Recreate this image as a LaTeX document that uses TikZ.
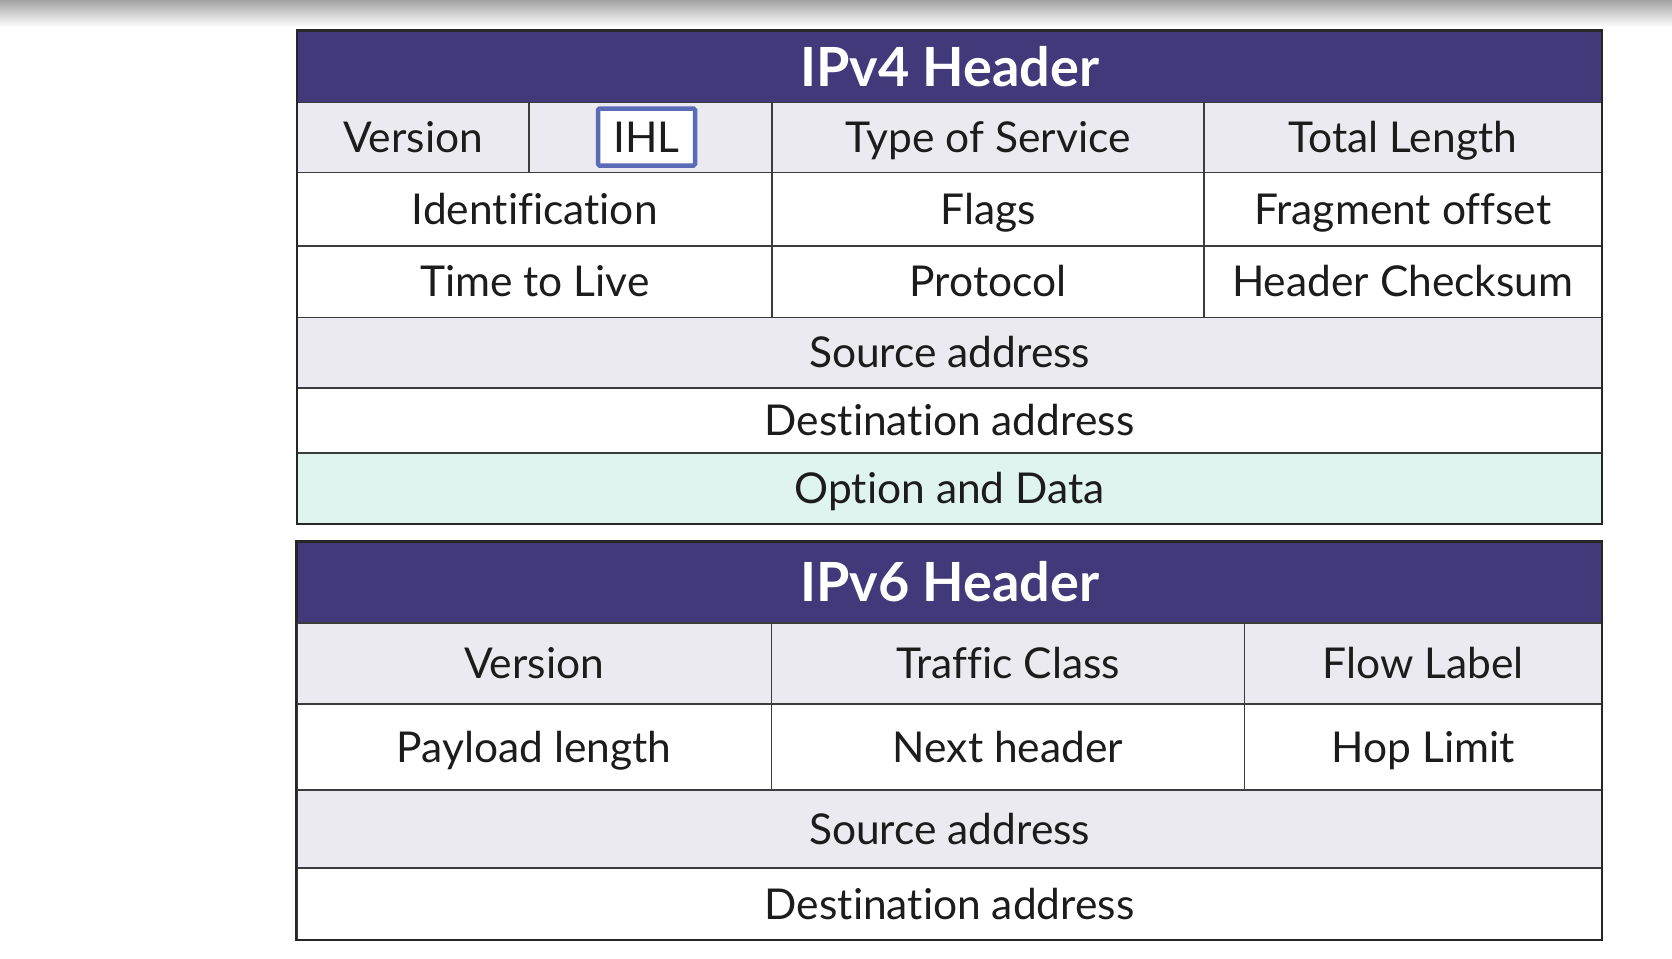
\documentclass[tikz,border=0pt]{standalone}
\usepackage{fontspec}
\setmainfont{Lato}[Ligatures=NoCommon]
\begin{document}
\definecolor{headfill}{HTML}{41397A}
\definecolor{rowlight}{HTML}{EBEAF1}
\definecolor{rowmint}{HTML}{DFF4EE}
\definecolor{rule}{HTML}{3C3C3C}
\definecolor{ink}{HTML}{1C1C1C}
\definecolor{markblue}{HTML}{5B6BB5}
\begin{tikzpicture}[x=1pt,y=-1pt,
  cell/.style={draw=rule,line width=1.8pt,inner sep=0pt,outer sep=0pt,
    text=ink,font=\fontsize{42.5}{42.5}\selectfont,
    text height=30pt,text depth=0pt},
  light/.style={cell,fill=rowlight},
  plain/.style={cell,fill=white},
  mint/.style={cell,fill=rowmint},
  head/.style={draw=black!85,line width=1.8pt,fill=headfill,inner sep=0pt,
    text=white,font=\fontsize{54}{54}\selectfont\bfseries,
    text height=38.5pt,text depth=0pt},
  frame/.style={draw=black!85,line width=2.2pt},
  hilite/.style={draw=markblue,line width=4.5pt,fill=white!96!rowlight,
    rounded corners=1.5pt,inner sep=0pt,text=ink,
    font=\fontsize{42.5}{42.5}\selectfont,text height=30pt,text depth=0pt}]
\useasboundingbox (0,0) rectangle (1672,958);
\fill[white] (0,0) rectangle (1672,958);
% soft shadow strip along the top edge
\shade[top color=black!36,bottom color=white] (0,0) rectangle (1672,27);

% ---------------- IPv4 header ----------------
\node[head,minimum width=1304.2pt,minimum height=71.5pt] (v4head) at (949.6,66.75) {IPv4 Header};
% row 1
\node[light,minimum width=231.5pt,minimum height=70pt] (v4ver) at (413.25,137.5) {Version};
\node[light,minimum width=243pt,minimum height=70pt] (v4ihl) at (650.5,137.5) {};
\node[light,minimum width=432pt,minimum height=70pt] (v4tos) at (988,137.5) {Type of Service};
\node[light,minimum width=397.7pt,minimum height=70pt] (v4len) at (1402.85,137.5) {Total Length};
\node[hilite,minimum width=97pt,minimum height=57pt] (ihlmark) at (646.5,137) {IHL};
% row 2
\node[plain,minimum width=474.5pt,minimum height=73.5pt] (v4id) at (534.75,209.25) {Identification};
\node[plain,minimum width=432pt,minimum height=73.5pt] (v4flags) at (988,209.25) {Flags};
\node[plain,minimum width=397.7pt,minimum height=73.5pt] (v4frag) at (1402.85,209.25) {Fragment offset};
% row 3
\node[plain,minimum width=474.5pt,minimum height=71.5pt] (v4ttl) at (534.75,281.75) {Time to Live};
\node[plain,minimum width=432pt,minimum height=71.5pt] (v4proto) at (988,281.75) {Protocol};
\node[plain,minimum width=397.7pt,minimum height=71.5pt] (v4sum) at (1402.85,281.75) {Header Checksum};
% full-width rows
\node[light,minimum width=1304.2pt,minimum height=70.5pt] (v4src) at (949.6,352.75) {Source address};
\node[plain,minimum width=1304.2pt,minimum height=65.2pt] (v4dst) at (949.6,420.6) {Destination address};
\node[mint,minimum width=1304.2pt,minimum height=70.8pt] (v4opt) at (949.6,488.6) {Option and Data};
\draw[frame] (v4head.north west) rectangle (v4opt.south east);

% ---------------- IPv6 header ----------------
\node[head,minimum width=1305.3pt,minimum height=81.3pt] (v6head) at (949.65,582.35) {IPv6 Header};
% row 1
\node[light,minimum width=474.5pt,minimum height=81pt] (v6ver) at (534.25,663.5) {Version};
\node[light,minimum width=472.9pt,minimum height=81pt] (v6tc) at (1007.95,663.5) {Traffic Class};
\node[light,minimum width=357.9pt,minimum height=81pt] (v6flow) at (1423.35,663.5) {Flow Label};
% row 2
\node[plain,minimum width=474.5pt,minimum height=86pt] (v6pay) at (534.25,747) {Payload length};
\node[plain,minimum width=472.9pt,minimum height=86pt] (v6next) at (1007.95,747) {Next header};
\node[plain,minimum width=357.9pt,minimum height=86pt] (v6hop) at (1423.35,747) {Hop Limit};
% full-width rows
\node[light,minimum width=1305.3pt,minimum height=78pt] (v6src) at (949.65,829) {Source address};
\node[plain,minimum width=1305.3pt,minimum height=72pt] (v6dst) at (949.65,904) {Destination address};
\draw[frame] (v6head.north west) rectangle (v6dst.south east);
\end{tikzpicture}
\end{document}
